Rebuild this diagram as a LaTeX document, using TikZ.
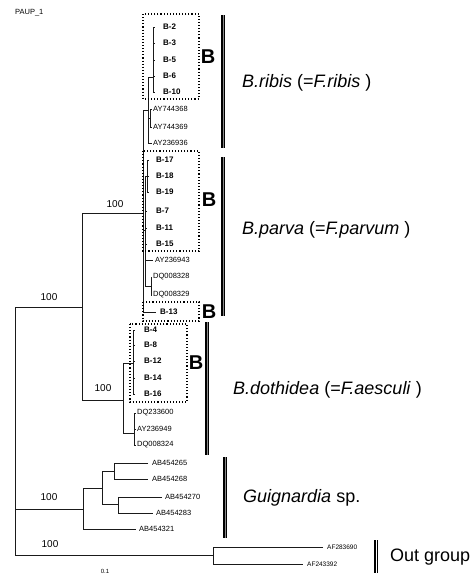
\documentclass[tikz,border=0pt]{standalone}
\usepackage{fontspec}
\setmainfont{Liberation Sans}
\usetikzlibrary{positioning}
\definecolor{trInk}{HTML}{1A1A1A}
\definecolor{trGray}{HTML}{8A8A8A}

\begin{document}
\begin{tikzpicture}[x=1pt,y=-1pt,
  branch/.style={trInk,line width=0.7pt},
  tick/.style={trInk,line width=0.5pt},
  leafB/.style={anchor=west,inner sep=0pt,font=\fontsize{8}{9}\selectfont\bfseries},
  leafA/.style={anchor=west,inner sep=0pt,font=\fontsize{7.5}{9}\selectfont},
  leafO/.style={anchor=west,inner sep=0pt,font=\fontsize{6.5}{8}\selectfont},
  boot/.style={font=\fontsize{10}{12}\selectfont},
  clbox/.style={dotted,line width=1.1pt},
  bigB/.style={font=\fontsize{20}{22}\selectfont\bfseries,inner sep=0pt},
  clbar/.style={black,line width=1.2pt,double=trGray,double distance=0.8pt},
  clname/.style={anchor=west,inner sep=0pt,font=\fontsize{18}{21}\selectfont}]
\useasboundingbox (0,0) rectangle (475,576);
\node[anchor=west,inner sep=0pt,font=\fontsize{7.5}{9}\selectfont] (title) at (15,13) {PAUP\_1};

% B. ribis
\foreach \n/\y/\t in {b2/27/B-2, b3/43/B-3, b5/60/B-5, b6/76/B-6, b10/92/B-10}{
 \node[leafB] (\n) at (163,\y) {\t};
 \draw[tick] (153,\y) -- ([xshift=-8]\n.west);
}
\foreach \n/\y/\t in {a68/109/AY744368, a69/127/AY744369}{
 \node[leafA] (\n) at (153,\y) {\t};
 \draw[tick] (150,\y) -- ([xshift=-1.5]\n.west);
}
\node[leafA] (a36) at (153,143) {AY236936};
\draw[branch] (153,27) -- (153,92);
\draw[branch] (148,77) -- (153,77);
\draw[branch] (150,109) -- (150,127);
\draw[branch] (148,118) -- (150,118);
\draw[branch] (148,77) -- (148,143) -- ([xshift=-1.5]a36.west);

% B. parva
\foreach \n/\y/\t in {b17/160/B-17, b18/176/B-18, b19/192/B-19}{
 \node[leafB] (\n) at (156,\y) {\t};
 \draw[tick] (147,\y) -- ([xshift=-7.5]\n.west);
}
\foreach \n/\y/\t in {b7/211/B-7, b11/228/B-11, b15/244/B-15}{
 \node[leafB] (\n) at (156,\y) {\t};
 \draw[tick] (145,\y) -- ([xshift=-9]\n.west);
}
\node[leafA] (a43) at (155,260) {AY236943};
\foreach \n/\y/\t in {d28/277/DQ008328, d29/295/DQ008329}{
 \node[leafA] (\n) at (153,\y) {\t};
 \draw[tick] (151,\y) -- ([xshift=-1]\n.west);
}
\node[leafB] (b13) at (160,312) {B-13};
\draw[branch] (147,160) -- (147,192);
\draw[branch] (145,176) -- (147,176);
\draw[branch] (145,211) -- (145,244);
\draw[branch] (145,260) -- ([xshift=-2]a43.west);
\draw[branch] (151,277) -- (151,295);
\draw[branch] (145,286) -- (151,286);
\draw[branch] (145,176) -- (145,286);
\draw[branch] (143,110) -- (148,110);
\draw[branch] (143,230) -- (145,230);
\draw[branch] (143,110) -- (143,312) -- ([xshift=-4]b13.west);
\draw[branch] (82,213) -- (143,213);
\node[boot] (n1) at (115,204) {100};

% B. dothidea
\foreach \n/\y/\t in {b4/330/B-4, b8/345/B-8, b12/361/B-12, b14/378/B-14, b16/394/B-16}{
 \node[leafB] (\n) at (144,\y) {\t};
 \draw[tick] (133,\y) -- ([xshift=-9]\n.west);
}
\foreach \n/\y/\t in {d00/413/DQ233600, a49/429/AY236949, d24/445/DQ008324}{
 \node[leafA] (\n) at (137,\y) {\t};
 \draw[tick] (134,\y) -- ([xshift=-1.5]\n.west);
}
\draw[branch] (133,330) -- (133,394);
\draw[branch] (134,413) -- (134,445);
\draw[branch] (133,363) -- (123,363) -- (123,433) -- (134,433);
\draw[branch] (82,400) -- (123,400);
\node[boot] (n2) at (103,388) {100};
\draw[branch] (82,213) -- (82,400);
\draw[branch] (15,307) -- (82,307);
\node[boot] (n3) at (49,297) {100};

% Guignardia
\node[leafA] (g65) at (152,463) {AB454265};
\node[leafA] (g68) at (152,479) {AB454268};
\node[leafA] (g70) at (165,497) {AB454270};
\node[leafA] (g83) at (156,513) {AB454283};
\node[leafA] (g21) at (139,529) {AB454321};
\draw[branch] (148,463) -| (114,479) -- (148,479);
\draw[branch] (162,497) -| (118,513) -- (153,513);
\draw[branch] (114,471) -| (102,504) -- (118,504);
\draw[branch] (102,488) -| (83,529) -- (136,529);
\draw[branch] (15,509) -- (83,509);
\node[boot] (n4) at (49,497) {100};

% Out group
\node[leafO] (f90) at (327,547) {AF283690};
\node[leafO] (f92) at (307,564) {AF243392};
\draw[branch] ([xshift=-4]f90.west) -| (213,564) -- ([xshift=-4]f92.west);
\draw[branch] (15,555) -- (213,555);
\node[boot] (n5) at (50,544) {100};
\draw[branch] (15,307) -- (15,555);
\node[inner sep=0pt,font=\fontsize{6}{7}\selectfont] (sc) at (105,571) {0.1};

% dotted boxes and B marks
\draw[clbox] (143,14) rectangle (199,99);
\draw[clbox] (143,151) rectangle (199,251);
\draw[clbox] (143,302) rectangle (199,321);
\draw[clbox] (130,324) rectangle (187,402);
\node[bigB] (mB1) at (208,57) {B};
\node[bigB] (mB2) at (209,200) {B};
\node[bigB] (mB3) at (209,312) {B};
\node[bigB] (mB4) at (196,363) {B};

% clade bars and names
\draw[clbar] (223,15) -- (223,148);
\draw[clbar] (223,157) -- (223,316);
\draw[clbar] (207,322) -- (207,455);
\draw[clbar] (225,457) -- (225,538);
\draw[clbar,double=white] (376,540) -- (376,573);
\node[clname] (ribis) at (242,83) {\textit{B.ribis} (=\textit{F.ribis} )};
\node[clname] (parva) at (242,230) {\textit{B.parva} (=\textit{F.parvum} )};
\node[clname] (doth) at (233,390) {\textit{B.dothidea} (=\textit{F.aesculi} )};
\node[clname] (guig) at (243,498) {\textit{Guignardia} sp.};
\node[clname] (outg) at (390,557) {Out group};
\end{tikzpicture}
\end{document}
